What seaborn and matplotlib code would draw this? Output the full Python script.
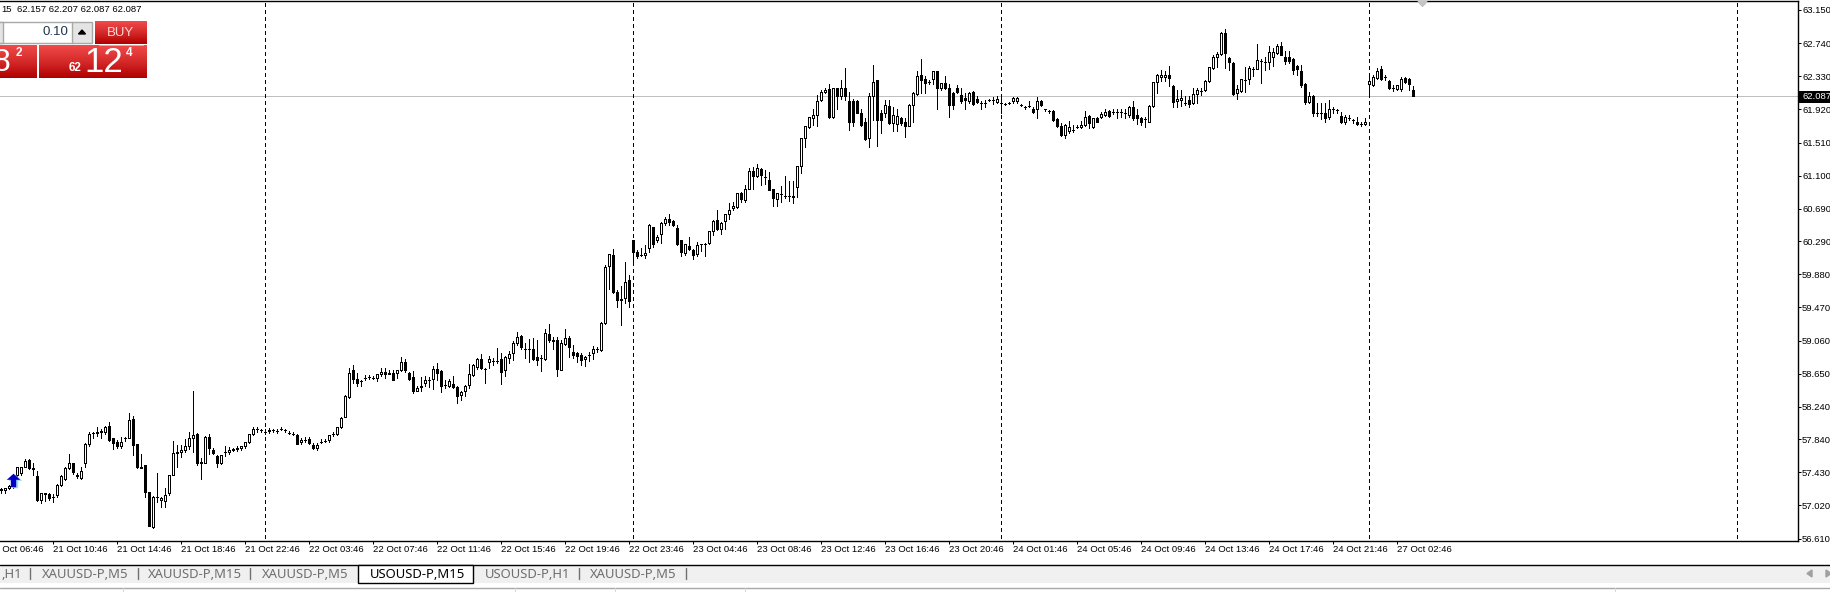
import numpy as np
import pandas as pd
import matplotlib
matplotlib.use("Agg")
import matplotlib.pyplot as plt
from matplotlib.colors import LinearSegmentedColormap
from matplotlib.patches import Rectangle
import seaborn as sns

# USOUSD-P M15 candles
opens = [
    57.21,57.21,57.24,57.27,57.40,57.42,57.50,57.58,57.48,57.38,
    57.09,57.17,57.16,57.12,57.15,57.27,57.35,57.48,57.54,57.40,
    57.36,57.54,57.78,57.92,57.92,57.93,57.93,58.00,57.85,57.81,
    57.76,57.85,57.86,58.09,57.78,57.49,57.52,57.19,56.75,57.13,
    57.09,57.07,57.17,57.40,57.67,57.68,57.70,57.75,57.85,57.91,
    57.54,57.54,57.87,57.70,57.63,57.54,57.68,57.68,57.71,57.72,
    57.73,57.76,57.81,57.91,57.96,57.95,57.93,57.94,57.95,57.94,
    57.97,57.95,57.92,57.91,57.89,57.80,57.83,57.84,57.77,57.73,
    57.81,57.82,57.83,57.91,57.91,57.99,58.12,58.36,58.69,58.59,
    58.56,58.60,58.61,58.60,58.60,58.64,58.67,58.66,58.66,58.66,
    58.69,58.80,58.66,58.61,58.44,58.48,58.54,58.57,58.59,58.71,
    58.68,58.51,58.50,58.52,58.48,58.39,58.43,58.51,58.63,58.73,
    58.83,58.71,58.79,58.81,58.81,58.83,58.69,58.85,58.90,59.03,
    59.12,58.95,58.96,58.95,58.86,58.84,58.83,59.14,59.07,59.07,
    58.70,59.02,59.09,58.92,58.91,58.88,58.83,58.88,58.90,58.95,
    58.94,59.28,59.98,60.12,59.66,59.56,59.59,59.81,60.31,60.15,
    60.12,60.12,60.21,60.46,60.30,60.38,60.52,60.57,60.54,60.45,
    60.30,60.14,60.23,60.18,60.13,60.25,60.25,60.27,60.41,60.55,
    60.44,60.54,60.62,60.70,60.71,60.89,60.80,60.94,61.16,61.09,
    61.18,61.08,61.05,60.93,60.81,60.87,60.85,60.85,60.85,60.96,
    61.22,61.56,61.70,61.81,61.85,62.03,62.13,62.17,61.82,62.18,
    62.09,62.19,62.02,62.02,62.02,61.87,61.76,61.56,62.09,62.28,
    61.87,61.87,61.96,61.75,61.74,61.81,61.76,61.72,61.98,62.11,
    62.35,62.30,62.26,62.29,62.39,62.18,62.25,62.18,62.12,62.18,
    62.10,62.06,62.02,62.13,62.05,62.00,62.00,62.03,62.03,62.01,
    62.00,61.99,62.00,62.02,62.02,61.98,61.95,61.96,61.93,61.92,
    62.02,61.92,61.90,61.90,61.80,61.72,61.60,61.65,61.67,61.70,
    61.70,61.73,61.84,61.70,61.81,61.82,61.85,61.90,61.89,61.89,
    61.89,61.87,61.85,61.95,61.85,61.81,61.80,61.77,61.96,62.26,
    62.32,62.32,62.35,62.21,62.02,62.03,62.00,62.03,62.00,62.11,
    62.15,62.16,62.27,62.43,62.57,62.61,62.86,62.55,62.50,62.12,
    62.15,62.28,62.29,62.42,62.42,62.52,62.51,62.51,62.57,62.62,
    62.70,62.57,62.57,62.54,62.46,62.40,62.24,62.01,62.09,61.87,
    61.87,61.88,61.83,61.92,61.91,61.84,61.77,61.81,61.79,61.77,
    61.74,61.74,62.23,62.22,62.31,62.42,62.32,62.27,62.19,62.17,62.17,62.31,62.30,62.157,
]
highs = [
    57.23,57.24,57.27,57.40,57.50,57.50,57.59,57.59,57.54,57.44,
    57.17,57.18,57.18,57.16,57.29,57.40,57.50,57.66,57.55,57.42,
    57.50,57.79,57.93,57.93,57.99,57.96,58.00,58.05,57.86,57.83,
    57.87,57.87,58.16,58.13,57.78,57.66,57.52,57.19,57.14,57.42,
    57.13,57.24,57.40,57.82,57.77,57.77,57.84,57.93,58.44,57.92,
    57.61,57.88,57.90,57.73,57.64,57.65,57.75,57.74,57.73,57.75,
    57.76,57.81,57.91,57.99,57.99,57.97,57.97,57.98,57.97,57.96,
    57.99,57.97,57.94,57.93,57.91,57.85,57.87,57.87,57.79,57.79,
    57.84,57.84,57.89,57.93,57.99,58.11,58.39,58.72,58.76,58.66,
    58.57,58.63,58.63,58.62,58.64,58.72,58.72,58.70,58.69,58.70,
    58.86,58.83,58.67,58.68,58.50,58.61,58.62,58.61,58.74,58.78,
    58.70,58.57,58.58,58.62,58.50,58.44,58.51,58.77,58.77,58.84,
    58.89,58.72,58.87,58.84,58.97,58.90,58.87,58.93,59.06,59.17,
    59.13,59.03,59.08,59.09,59.07,58.88,59.20,59.27,59.10,59.10,
    59.07,59.20,59.12,59.00,58.92,58.91,58.87,58.92,58.99,58.98,
    59.29,60.00,60.13,60.19,59.69,59.74,60.03,59.87,60.31,60.18,
    60.21,60.24,60.50,60.46,60.36,60.53,60.59,60.62,60.55,60.49,
    60.31,60.25,60.34,60.19,60.28,60.26,60.27,60.42,60.55,60.67,
    60.53,60.63,60.76,60.77,60.89,60.90,60.99,61.20,61.21,61.24,
    61.19,61.17,61.15,60.94,60.89,60.97,61.09,61.03,61.03,61.22,
    61.57,61.71,61.82,61.93,62.10,62.16,62.18,62.24,62.18,62.19,
    62.28,62.43,62.14,62.05,62.03,61.92,61.81,62.12,62.47,62.28,
    61.91,62.04,62.04,61.95,61.93,61.83,61.81,61.99,62.13,62.40,
    62.54,62.33,62.28,62.39,62.40,62.25,62.33,62.24,62.13,62.22,
    62.18,62.12,62.14,62.15,62.08,62.02,62.04,62.05,62.07,62.08,
    62.07,62.00,62.01,62.07,62.07,61.99,61.96,62.02,61.95,62.07,
    62.04,61.93,61.91,61.91,61.81,61.75,61.74,61.78,61.73,61.73,
    61.78,61.90,61.85,61.81,61.83,61.89,61.93,61.91,61.92,61.92,
    61.92,61.92,61.96,62.02,61.93,61.83,61.82,61.97,62.26,62.36,
    62.41,62.40,62.46,62.22,62.16,62.16,62.08,62.09,62.19,62.19,
    62.18,62.28,62.45,62.59,62.63,62.88,62.92,62.57,62.51,62.22,
    62.30,62.45,62.46,62.44,62.73,62.54,62.57,62.71,62.68,62.73,
    62.75,62.64,62.64,62.55,62.47,62.47,62.25,62.13,62.10,62.00,
    62.00,62.00,62.04,61.95,61.93,61.89,61.85,61.85,61.80,61.82,
    61.77,61.81,62.36,62.35,62.43,62.46,62.35,62.28,62.22,62.22,62.32,62.32,62.31,62.207,
]
lows = [
    57.18,57.17,57.22,57.23,57.38,57.40,57.49,57.47,57.40,57.08,
    57.05,57.07,57.09,57.06,57.13,57.26,57.34,57.47,57.41,57.36,
    57.35,57.50,57.76,57.86,57.88,57.85,57.90,57.82,57.72,57.73,
    57.73,57.82,57.85,57.64,57.48,57.48,57.13,56.76,56.74,57.06,
    57.00,57.00,57.15,57.40,57.50,57.62,57.68,57.72,57.68,57.52,
    57.35,57.54,57.66,57.66,57.49,57.53,57.63,57.66,57.69,57.69,
    57.71,57.73,57.79,57.89,57.93,57.93,57.91,57.92,57.93,57.92,
    57.95,57.93,57.90,57.89,57.78,57.78,57.81,57.78,57.72,57.70,
    57.79,57.80,57.81,57.88,57.89,57.98,58.11,58.35,58.53,58.50,
    58.50,58.57,58.59,58.58,58.56,58.62,58.60,58.64,58.57,58.60,
    58.68,58.67,58.57,58.41,58.43,58.43,58.50,58.48,58.46,58.57,
    58.42,58.47,58.49,58.47,58.29,58.33,58.37,58.47,58.62,58.71,
    58.71,58.54,58.72,58.76,58.78,58.52,58.62,58.78,58.82,59.01,
    58.96,58.85,58.80,58.82,58.76,58.68,58.82,59.04,58.95,58.62,
    58.69,59.01,58.86,58.85,58.80,58.76,58.75,58.81,58.83,58.92,
    58.93,59.27,59.70,59.65,59.48,59.25,59.53,59.47,60.02,60.08,
    60.10,60.08,60.16,60.22,60.28,60.27,60.49,60.49,60.48,60.24,
    60.10,60.12,60.18,60.07,60.11,60.17,60.11,60.26,60.36,60.43,
    60.38,60.44,60.57,60.68,60.70,60.77,60.78,60.93,60.93,61.08,
    60.98,61.00,60.92,60.72,60.73,60.77,60.82,60.79,60.76,60.84,
    61.13,61.46,61.69,61.73,61.72,62.02,62.12,61.81,61.81,61.93,
    62.05,62.04,61.67,61.72,61.87,61.72,61.54,61.46,61.79,61.47,
    61.63,61.83,61.74,61.65,61.65,61.73,61.58,61.71,61.77,62.10,
    62.12,62.12,62.23,62.24,61.92,62.16,62.17,61.83,61.92,62.12,
    62.00,61.92,62.00,61.98,62.00,61.92,61.95,62.02,61.99,62.00,
    61.87,61.97,61.99,62.00,62.00,61.96,61.92,61.95,61.87,61.81,
    61.96,61.90,61.88,61.78,61.70,61.59,61.57,61.63,61.64,61.69,
    61.69,61.72,61.69,61.69,61.76,61.81,61.84,61.83,61.86,61.81,
    61.83,61.81,61.83,61.79,61.74,61.73,61.70,61.76,61.95,62.12,
    62.27,62.27,62.21,61.95,61.95,61.96,61.97,61.95,61.99,62.00,
    62.10,62.15,62.26,62.42,62.44,62.59,62.43,62.41,62.10,62.05,
    62.14,62.14,62.24,62.33,62.42,62.25,62.41,62.42,62.46,62.61,
    62.59,62.48,62.50,62.36,62.35,62.20,61.99,62.00,61.84,61.84,
    61.80,61.76,61.80,61.87,61.87,61.75,61.74,61.79,61.75,61.73,
    61.72,61.73,62.08,62.21,62.29,62.28,62.28,62.17,62.15,62.16,62.15,62.25,62.16,62.087,
]
closes = [
    57.22,57.23,57.26,57.36,57.49,57.49,57.57,57.48,57.47,57.09,
    57.17,57.16,57.11,57.12,57.27,57.38,57.48,57.54,57.43,57.39,
    57.44,57.78,57.91,57.92,57.93,57.94,57.99,57.83,57.79,57.76,
    57.81,57.85,58.08,57.77,57.49,57.48,57.19,56.76,57.13,57.12,
    57.11,57.15,57.40,57.67,57.68,57.71,57.75,57.85,57.89,57.54,
    57.56,57.87,57.73,57.67,57.54,57.64,57.68,57.71,57.72,57.73,
    57.75,57.81,57.91,57.96,57.96,57.95,57.93,57.95,57.95,57.94,
    57.97,57.95,57.92,57.91,57.78,57.83,57.83,57.79,57.73,57.77,
    57.81,57.82,57.89,57.91,57.99,58.10,58.37,58.66,58.58,58.53,
    58.56,58.60,58.61,58.60,58.64,58.67,58.64,58.64,58.57,58.70,
    58.80,58.69,58.58,58.44,58.47,58.50,58.57,58.57,58.71,58.66,
    58.50,58.51,58.56,58.48,58.38,58.42,58.50,58.65,58.76,58.83,
    58.72,58.71,58.83,58.81,58.81,58.67,58.86,58.89,59.03,59.10,
    58.98,58.95,58.96,58.83,58.82,58.84,59.15,59.07,59.05,58.71,
    59.03,59.09,58.98,58.88,58.87,58.82,58.86,58.88,58.95,58.95,
    59.28,59.97,60.13,59.66,59.56,59.58,59.79,59.55,60.15,60.10,
    60.12,60.14,60.49,60.26,60.34,60.52,60.56,60.53,60.49,60.26,
    60.15,60.25,60.19,60.12,60.24,60.25,60.25,60.41,60.54,60.44,
    60.52,60.62,60.68,60.73,60.88,60.81,60.93,61.16,61.10,61.19,
    61.11,61.08,60.92,60.82,60.88,60.87,60.85,60.85,60.83,61.22,
    61.57,61.71,61.82,61.85,62.02,62.13,62.16,61.82,62.18,62.09,
    62.18,62.08,61.76,61.76,61.88,61.73,61.55,62.09,62.26,61.79,
    61.79,61.97,61.75,61.85,61.84,61.75,61.71,61.97,62.12,62.33,
    62.28,62.25,62.26,62.39,62.19,62.25,62.19,61.97,61.97,62.13,
    62.02,62.04,62.12,61.99,62.01,62.00,62.00,62.03,62.03,62.05,
    62.00,61.99,62.00,62.06,62.06,61.98,61.95,61.96,61.89,62.02,
    61.98,61.92,61.90,61.79,61.71,61.60,61.73,61.70,61.67,61.70,
    61.73,61.83,61.75,61.81,61.77,61.86,61.89,61.84,61.89,61.89,
    61.89,61.87,61.95,61.81,61.81,61.77,61.80,61.96,62.26,62.35,
    62.35,62.35,62.31,62.01,62.05,62.06,62.00,61.99,62.11,62.16,
    62.15,62.27,62.44,62.57,62.61,62.87,62.62,62.51,62.11,62.17,
    62.30,62.28,62.43,62.42,62.53,62.52,62.51,62.63,62.63,62.70,
    62.59,62.52,62.52,62.41,62.42,62.22,62.01,62.09,61.87,61.87,
    61.87,61.81,61.93,61.92,61.91,61.76,61.83,61.81,61.79,61.74,
    61.74,61.77,62.27,62.32,62.40,62.29,62.32,62.18,62.19,62.22,62.30,62.26,62.23,62.087,
]

price_ticks = [63.150,62.740,62.330,61.920,61.510,61.100,60.690,60.290,59.880,
               59.470,59.060,58.650,58.240,57.840,57.430,57.020,56.610]
time_labels = ["21 Oct 06:46","21 Oct 10:46","21 Oct 14:46","21 Oct 18:46","21 Oct 22:46",
               "22 Oct 03:46","22 Oct 07:46","22 Oct 11:46","22 Oct 15:46","22 Oct 19:46","22 Oct 23:46",
               "23 Oct 04:46","23 Oct 08:46","23 Oct 12:46","23 Oct 16:46","23 Oct 20:46",
               "24 Oct 01:46","24 Oct 05:46","24 Oct 09:46","24 Oct 13:46","24 Oct 17:46","24 Oct 21:46",
               "27 Oct 02:46"]
time_ticks = [-3 + 16 * i for i in range(len(time_labels))]
day_breaks = [66, 158, 250, 342, 434]
current_price = 62.087
arrow_bar = 3
arrow_price = 57.34

W, H = 1831, 592
sns.set_theme(style="white")
plt.rcParams["font.family"] = ["Liberation Sans", "DejaVu Sans"]
PX = 0.72  # one pixel in points at dpi 100
SMALL = 6.8

fig = plt.figure(figsize=(W / 100, H / 100), dpi=100, facecolor="white")
ax = fig.add_axes([0, (H - 541) / H, 1798 / W, 540 / H], facecolor="white")

candles = pd.DataFrame({"bar": range(len(opens)), "open": opens, "high": highs, "low": lows, "close": closes})
wicks = candles.melt(id_vars="bar", value_vars=["high", "low"], value_name="price").sort_values("bar")

ax.axhline(current_price, color="#c0c0c0", lw=PX, zorder=1, antialiased=False)
for b in day_breaks:
    ax.plot([b, b], [56.62, 63.27], color="black", lw=PX, ls=(0, (4, 3)), zorder=2, antialiased=False)

sns.lineplot(data=wicks, x="bar", y="price", units="bar", estimator=None, color="black",
             lw=PX, ax=ax, legend=False, sort=False, zorder=3, antialiased=False)

up = candles[candles["close"] >= candles["open"]]
down = candles[candles["close"] < candles["open"]]
ax.bar(up["bar"], up["close"] - up["open"], bottom=up["open"], width=0.5, facecolor="white",
       edgecolor="black", linewidth=PX, zorder=4, antialiased=False)
ax.bar(down["bar"], down["close"] - down["open"], bottom=down["open"], width=0.5, facecolor="black",
       edgecolor="black", linewidth=PX, zorder=4, antialiased=False)

# buy arrow from the EA
arrow_path = [(0, 1), (1, 0.1), (0.4, 0.1), (0.4, -1), (-0.4, -1), (-0.4, 0.1), (-1, 0.1)]
ax.scatter([arrow_bar + 0.3], [arrow_price - 0.02], marker=arrow_path, s=95, color="#9fd8f0", linewidths=0, zorder=5)
sns.scatterplot(x=[arrow_bar], y=[arrow_price], marker=arrow_path, s=95, color="#0000c8", linewidth=0, ax=ax, zorder=6)

ax.set_xlim(-0.375, 449.125)
ax.set_ylim(56.58, 63.261)
ax.set(xlabel="", ylabel="")
ax.yaxis.tick_right()
ax.set_yticks(price_ticks)
ax.set_yticklabels([f"{p:.3f}" for p in price_ticks])
ax.set_xticks([t for t in time_ticks if t >= 0])
ax.set_xticklabels([])
ax.tick_params(axis="y", length=2.2, width=PX, color="black", direction="out", pad=0.8, labelsize=SMALL, labelcolor="black", right=True)
ax.tick_params(axis="x", length=2.4, width=PX, color="black", direction="out", bottom=True)
for side in ["top", "right", "bottom"]:
    ax.spines[side].set_color("black")
    ax.spines[side].set_linewidth(1.0)
ax.spines["left"].set_visible(False)

for t, lab in zip(time_ticks, time_labels):
    ax.text(t - 0.1, -0.0165, lab, transform=ax.get_xaxis_transform(), ha="left", va="center",
            fontsize=SMALL, color="black", clip_on=False)

# terminal chrome drawn in pixel coordinates on top
ui = fig.add_axes([0, 0, 1, 1], facecolor="none")
ui.set_axis_off()

red = LinearSegmentedColormap.from_list("btn", ["#f04a4a", "#d62a2a", "#b00000"])
def grad(x0, x1, y0, y1):
    ui.imshow(np.linspace(0, 1, 64)[:, None], cmap=red, extent=(x0, x1, y1, y0), aspect="auto", zorder=2)

ui.add_patch(Rectangle((1799, 90.5), 32, 12, facecolor="black", edgecolor="none", zorder=5))
ui.text(1802.7, 96.7, f"{current_price:.3f}", fontsize=SMALL, va="center", color="white", zorder=6)

ui.text(1, 9.5, "15", fontsize=SMALL, va="center", color="black")
ui.text(17, 9.5, "62.157 62.207 62.087 62.087", fontsize=SMALL, va="center", color="black")

ui.add_patch(Rectangle((-2, 22), 75, 20.5, facecolor="white", edgecolor="#a8a8a8", lw=1, zorder=1))
ui.add_patch(Rectangle((-2, 22), 5, 20.5, facecolor="#e4e4e4", edgecolor="#a8a8a8", lw=1, zorder=1))
ui.add_patch(Rectangle((72, 22), 20, 20.5, facecolor="#e4e4e4", edgecolor="#a8a8a8", lw=1, zorder=1))
ui.text(68, 32, "0.10", fontsize=9.5, ha="right", va="center", color="#1f3550", zorder=3)
ui.fill([78.5, 85.5, 82], [34, 34, 30], color="black", zorder=3)

grad(95, 147, 21, 44)
grad(-2, 37, 45, 78)
grad(39, 147, 45, 78)
ui.plot([99, 143], [44.5, 44.5], color="#ff9a9a", lw=PX, zorder=3)
ui.text(120, 32.5, "BUY", fontsize=9.5, ha="center", va="center", color="#ffd8d8", zorder=3)
ui.text(10, 63, "8", fontsize=23, ha="right", va="center", color="white", zorder=3)
ui.text(19, 53, "2", fontsize=8.5, ha="center", va="center", color="white", fontweight="bold", zorder=3)
ui.text(75, 68, "62", fontsize=8.5, ha="center", va="center", color="white", fontweight="bold", zorder=3)
ui.text(104, 63, "12", fontsize=25, ha="center", va="center", color="white", zorder=3)
ui.text(129, 53, "4", fontsize=8.5, ha="center", va="center", color="white", fontweight="bold", zorder=3)

ui.fill([1418, 1427, 1422.5], [1.5, 1.5, 6.5], color="#c4c4c4", zorder=3)

# tab strip
ui.add_patch(Rectangle((0, 564.5), W, 18.5, facecolor="#f0f0f0", edgecolor="none", zorder=1))
ui.plot([0, W], [564.5, 564.5], color="black", lw=1, zorder=2)
ui.add_patch(Rectangle((358.5, 564.5), 115, 18.5, facecolor="white", edgecolor="black", lw=1, zorder=3))
ui.plot([0, W], [587.5, 587.5], color="#a8a8a8", lw=1, zorder=2)
for sx in [123, 515, 615, 745, 1615]:
    ui.plot([sx, sx], [588, 592], color="#d8d8d8", lw=PX, zorder=2)
tab_names = [",H1", "XAUUSD-P,M5", "XAUUSD-P,M15", "XAUUSD-P,M5", "USOUSD-P,M15", "USOUSD-P,H1", "XAUUSD-P,M5"]
tab_x = [1, 42, 148, 262, 370, 485, 590]
for name, tx in zip(tab_names, tab_x):
    col = "black" if name == "USOUSD-P,M15" else "#6e6e6e"
    ui.text(tx, 574, name, fontsize=9.4, ha="left", va="center", color=col, zorder=4,
            family=["Noto Sans", "DejaVu Sans"])
for sx in [30.5, 138.5, 250.5, 579.5, 686.5]:
    ui.plot([sx, sx], [568, 579], color="#707070", lw=1, zorder=2)
ui.fill([1812, 1812, 1807], [570, 577, 573.5], color="#a0a0a0", zorder=2)
ui.fill([1826, 1826, 1831], [570, 577, 573.5], color="#a0a0a0", zorder=2)

ui.set_xlim(0, W)
ui.set_ylim(H, 0)

fig.savefig("out.png", dpi=100, facecolor="white")
